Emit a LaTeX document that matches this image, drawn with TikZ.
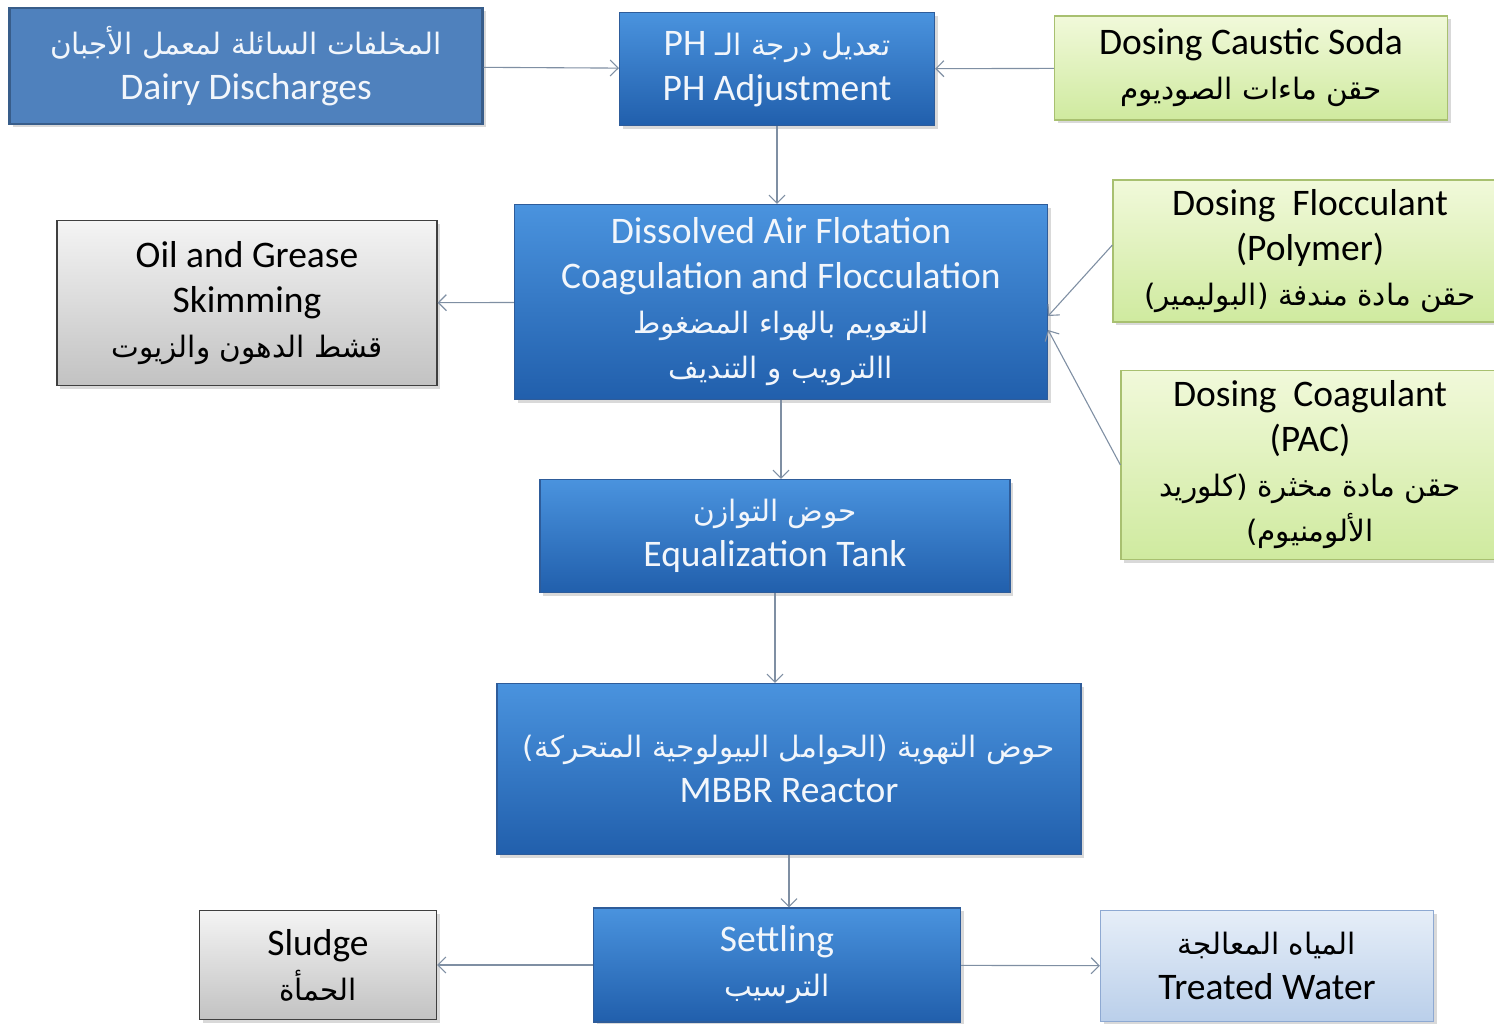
\documentclass[tikz,border=0pt]{standalone}
\usepackage{fontspec}
\setmainfont{Carlito}
\newfontfamily\arabicfont[Script=Arabic]{DejaVu Sans}
\TeXXeTstate=1
\usetikzlibrary{arrows.meta,calc,positioning,shadows}
\definecolor{DairyFill}{HTML}{4F81BD}
\definecolor{DairyEdge}{HTML}{385D8A}
\definecolor{ProcTop}{HTML}{4A93DE}
\definecolor{ProcBottom}{HTML}{215FAC}
\definecolor{ProcEdge}{HTML}{2E5C9A}
\definecolor{DoseTop}{HTML}{F1F9DA}
\definecolor{DoseBottom}{HTML}{CFEA9F}
\definecolor{DoseEdge}{HTML}{A8C070}
\definecolor{WasteTop}{HTML}{F4F4F4}
\definecolor{WasteBottom}{HTML}{C2C2C2}
\definecolor{WasteEdge}{HTML}{3F3F3F}
\definecolor{WaterTop}{HTML}{E6EEF8}
\definecolor{WaterBottom}{HTML}{BACFEA}
\definecolor{WaterEdge}{HTML}{8EA9D2}
\definecolor{LinkGray}{HTML}{7F8FA3}
\definecolor{PaleText}{HTML}{F2F6FB}
\newcommand{\arline}[1]{{\arabicfont\fontsize{29.5}{45}\selectfont\beginR #1\endR}}

\begin{document}
\begin{tikzpicture}[
        x=1pt,y=-1pt,
        box/.style={draw,align=center,inner sep=0pt,line width=1.2pt,
          font=\fontsize{37.5}{45}\selectfont,
          drop shadow={opacity=0.3,shadow xshift=3pt,shadow yshift=-3pt}},
        sourcebox/.style={box,draw=DairyEdge,fill=DairyFill,line width=2.4pt,text=PaleText},
        procbox/.style={box,draw=ProcEdge,top color=ProcTop,bottom color=ProcBottom,text=PaleText},
        dosebox/.style={box,draw=DoseEdge,top color=DoseTop,bottom color=DoseBottom},
        wastebox/.style={box,draw=WasteEdge,top color=WasteTop,bottom color=WasteBottom},
        waterbox/.style={box,draw=WaterEdge,top color=WaterTop,bottom color=WaterBottom},
        arrow/.style={-{Straight Barb[length=8pt,width=16pt]},line width=1.1pt,color=LinkGray}
      ]
        \useasboundingbox (0,0) rectangle (1494,1023);
        \node[sourcebox,minimum width=473,minimum height=116] (dairy) at (246,66)
          {\arline{المخلفات السائلة لمعمل الأجبان}\\Dairy Discharges};
        \node[procbox,minimum width=315,minimum height=113] (ph) at (777,69)
          {\arline{تعديل درجة الـ \beginL{\rmfamily\fontsize{37.5}{45}\selectfont PH}\endL}\\PH Adjustment};
        \node[dosebox,minimum width=393,minimum height=104] (caustic) at (1251,68)
          {Dosing Caustic Soda\\\arline{حقن ماءات الصوديوم}};
        \node[procbox,minimum width=533,minimum height=195] (daf) at (781,302)
          {Dissolved Air Flotation\\Coagulation and Flocculation\\
           \arline{التعويم بالهواء المضغوط}\\\arline{االترويب و التنديف}};
        \node[wastebox,minimum width=380,minimum height=165] (oil) at (247,303)
          {Oil and Grease\\Skimming\\\arline{قشط الدهون والزيوت}};
        \node[dosebox,minimum width=394,minimum height=142] (flocc) at (1310,251)
          {Dosing\ \ Flocculant\\(Polymer)\\\arline{حقن مادة مندفة (البوليمير)}};
        \node[dosebox,minimum width=378,minimum height=189] (coag) at (1310,465)
          {Dosing\ \ Coagulant\\(PAC)\\\arline{حقن مادة مخثرة (كلوريد}\\\arline{الألومنيوم)}};
        \node[procbox,minimum width=470,minimum height=113] (eq) at (775,536)
          {\arline{حوض التوازن}\\Equalization Tank};
        \node[procbox,minimum width=584,minimum height=171] (mbbr) at (789,769)
          {\arline{حوض التهوية (الحوامل البيولوجية المتحركة)}\\MBBR Reactor};
        \node[procbox,minimum width=367,minimum height=114] (settle) at (777,965)
          {Settling\\\arline{الترسيب}};
        \node[wastebox,minimum width=237,minimum height=109] (sludge) at (318,965)
          {Sludge\\\arline{الحمأة}};
        \node[waterbox,minimum width=333,minimum height=111] (treated) at (1267,966)
          {\arline{المياه المعالجة}\\Treated Water};
        \coordinate (floccin) at ([yshift=-14pt]daf.east);
        \coordinate (coagin) at ([yshift=-28pt]daf.east);
        \draw[arrow] (dairy) -- (ph);
        \draw[arrow] (caustic) -- (ph);
        \draw[arrow] (ph.south) -- (ph.south |- daf.north);
        \draw[arrow] (daf) -- (oil);
        \draw[arrow] ([yshift=6pt]flocc.west) -- (floccin);
        \draw[arrow] (coag.west) -- (coagin);
        \draw[arrow] (daf.south) -- (daf.south |- eq.north);
        \draw[arrow] (eq.south) -- (eq.south |- mbbr.north);
        \draw[arrow] (mbbr.south) -- (mbbr.south |- settle.north);
        \draw[arrow] (settle) -- (sludge);
        \draw[arrow] (settle) -- (treated);
      \end{tikzpicture}
\end{document}
